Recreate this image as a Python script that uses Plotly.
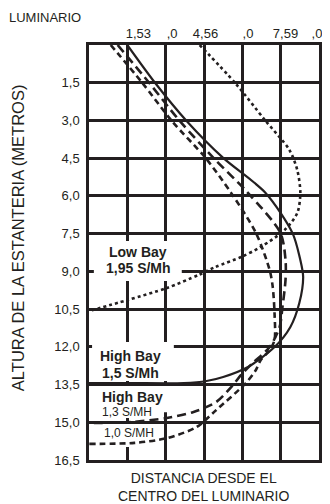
import plotly.graph_objects as go

INK = "#231f20"
FONT = "Liberation Sans, Arial, sans-serif"

# rack height (m) vs distance from luminaire centre (m)
high15_y = [0, 1.51, 3.02, 4.49, 5.88, 7.47, 8.55, 9.22, 10.26, 11.21, 12.01, 12.80, 13.20, 13.36, 13.44, 13.44, 13.44]
high15_x = [1.50, 2.59, 3.82, 5.25, 6.91, 7.96, 8.27, 8.38, 8.23, 7.88, 7.26, 6.22, 5.25, 4.60, 3.71, 1.58, 0]

high13_y = [0, 1.51, 3.02, 4.49, 5.88, 7.47, 8.55, 9.34, 10.42, 11.21, 12.01, 12.64, 13.12, 13.56, 14.19, 14.59, 14.83, 14.99, 15.03]
high13_x = [1.12, 2.36, 3.55, 4.87, 6.22, 7.49, 7.69, 7.69, 7.57, 7.46, 7.07, 6.41, 5.95, 5.60, 4.98, 4.09, 3.05, 1.66, 0]

high10_y = [0, 1.51, 3.02, 4.49, 5.88, 7.47, 8.95, 9.62, 10.66, 11.73, 12.13, 12.52, 12.92, 13.44, 14.51, 15.19, 15.63, 15.82, 15.86]
high10_x = [0.85, 2.09, 3.24, 4.56, 5.56, 6.53, 7.07, 7.19, 7.26, 7.26, 7.07, 6.72, 6.53, 6.14, 4.98, 4.21, 3.05, 1.78, 0]

low195_y = [0, 1.51, 2.98, 4.17, 4.97, 5.88, 6.68, 7.36, 8.03, 8.43, 8.83, 9.14, 9.66, 10.14, 10.58]
low195_x = [4.33, 5.72, 6.88, 7.84, 8.15, 8.27, 8.15, 7.65, 6.72, 5.95, 4.94, 4.29, 3.05, 1.51, 0]

y_ticks = [1.5, 3.0, 4.5, 6.0, 7.5, 9.0, 10.5, 12.0, 13.5, 15.0, 16.5]
y_tick_text = ["1,5", "3,0", "4,5", "6,0", "7,5", "9,0", "10,5", "12,0", "13,5", "15,0", "16,5"]
top_ticks = [1.93, 3.25, 4.56, 6.22, 7.69, 8.92]
top_tick_text = ["1,53", ",0", "4,56", ",0", "7,59", ",0"]

fig = go.Figure()

series = [
    (low195_x, low195_y, "3px,3px", 2.6),
    (high10_x, high10_y, "6px,4px", 2.6),
    (high13_x, high13_y, "9px,5px", 2.6),
    (high15_x, high15_y, "solid", 2.2),
]
for xs, ys, dash, w in series:
    fig.add_trace(go.Scatter(
        x=xs, y=ys, mode="lines", hoverinfo="skip",
        line=dict(color=INK, width=w, dash=dash, shape="spline", smoothing=0.8),
    ))

# empty trace so the top axis gets drawn
fig.add_trace(go.Scatter(x=[None], y=[None], xaxis="x2", mode="lines", hoverinfo="skip"))

# white knock-outs behind the labels (above grid, below curves)
boxes = [
    (0.19, 3.63, 7.79, 9.38),
    (0.12, 3.32, 11.81, 13.36),
    (0.0, 3.20, 13.56, 14.60),
    (0.0, 2.74, 14.60, 14.83),
    (0.0, 2.74, 15.07, 15.98),
]
for x0, x1, y0, y1 in boxes:
    fig.add_shape(type="rect", xref="x", yref="y", x0=x0, x1=x1, y0=y0, y1=y1,
                  fillcolor="white", line_width=0, layer="between")

labels = [
    ("<b>Low Bay</b>", 1.93, 8.23, 14, "center"),
    ("<b>1,95 S/Mh</b>", 1.93, 8.87, 14, "center"),
    ("<b>High Bay</b>", 1.62, 12.37, 14, "center"),
    ("<b>1,5 S/Mh</b>", 1.62, 13.04, 14, "center"),
    ("<b>High Bay</b>", 0.42, 14.00, 14, "left"),
    ("1,3 S/MH", 0.42, 14.59, 12, "left"),
    ("1,0 S/MH", 0.50, 15.43, 12, "left"),
]
for txt, x, y, size, anchor in labels:
    fig.add_annotation(text=txt, x=x, y=y, xref="x", yref="y", showarrow=False,
                       xanchor=anchor, yanchor="middle",
                       font=dict(family=FONT, size=size, color=INK))

fig.add_annotation(text="ALTURA DE LA ESTANTERIA (METROS)", xref="paper", yref="paper",
                   x=-0.308, y=0.535, textangle=-90, showarrow=False,
                   xanchor="center", yanchor="middle",
                   font=dict(family=FONT, size=16.5, color=INK))
fig.add_annotation(text="DISTANCIA DESDE EL<br>CENTRO DEL LUMINARIO", xref="paper", yref="paper",
                   x=0.498, y=-0.065, showarrow=False, xanchor="center", yanchor="middle",
                   font=dict(family=FONT, size=14, color=INK))
fig.add_annotation(text="LUMINARIO", xref="paper", yref="paper",
                   x=-0.193, y=1.067, showarrow=False, xanchor="center", yanchor="middle",
                   font=dict(family=FONT, size=13, color=INK))

# page body has an 8px margin, so the figure is 8px smaller than the window
fig.update_layout(
    width=322, height=496,
    margin=dict(l=81, r=8, t=37, b=44),
    paper_bgcolor="white", plot_bgcolor="white",
    showlegend=False,
    xaxis=dict(range=[0, 9], dtick=1.5, tick0=0, showgrid=True, gridcolor=INK, gridwidth=2.5,
               showticklabels=False, showline=True, mirror=True, linecolor=INK, linewidth=2.5,
               zeroline=False, fixedrange=True),
    xaxis2=dict(range=[0, 9], overlaying="x", side="top", tickvals=top_ticks,
                ticktext=top_tick_text, showgrid=False, showline=False, zeroline=False,
                ticks="", ticklabelstandoff=3, tickfont=dict(family=FONT, size=13, color=INK)),
    yaxis=dict(range=[16.5, 0], tickvals=y_ticks, ticktext=y_tick_text, showgrid=True,
               gridcolor=INK, gridwidth=2.5, showline=True, mirror=True, linecolor=INK,
               linewidth=2.5, zeroline=False, ticks="", ticklabelstandoff=4,
               tickfont=dict(family=FONT, size=13, color=INK)),
)

fig.write_html("out.html")
